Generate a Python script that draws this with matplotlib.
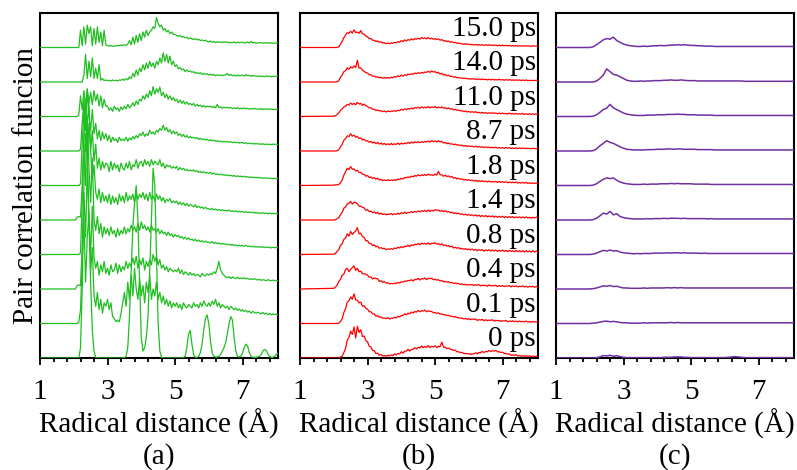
import numpy as np
import matplotlib
matplotlib.use("Agg")
import matplotlib.pyplot as plt

plt.rcParams['font.family'] = ['Liberation Serif', 'DejaVu Serif']

# radial grids (Å) on which the curves were read
r_fine = [round(2.0 + 0.05 * k, 2) for k in range(123)]   # panels (a), (b): 2.00 ... 8.10
r_grid = [round(2.0 + 0.1 * k, 1) for k in range(62)]     # panel (c): 2.0 ... 8.1

times = ['0 ps', '0.1 ps', '0.4 ps', '0.8 ps', '1.4 ps', '1.8 ps',
         '8.7 ps', '11.0 ps', '14.0 ps', '15.0 ps']

# panel (a), bottom -> top, values in units of the curve spacing
g_a = [
    [0, 0, 0, 0, 0.3, 2.0, 5.0, 6.5, 6.0, 4.0,
     2.2, 0.8, 0.2, 0.02, 0, 0, 0, 0, 0, 0,
     0, 0, 0, 0, 0, 0, 0, 0, 0, 0,
     0, 0.05, 0.3, 1.2, 2.5, 3.8, 4.5, 5.0, 4.0, 2.2,
     0.6, 0.2, 0.3, 0.6, 1.2, 2.5, 4.0, 5.5, 5.0, 3.0,
     1.0, 0.2, 0.02, 0, 0, 0, 0, 0, 0, 0,
     0, 0, 0, 0, 0, 0.02, 0.05, 0.3, 0.7, 0.8,
     0.4, 0.1, 0.02, 0.02, 0.05, 0.15, 0.4, 0.8, 1.15, 1.25,
     1.0, 0.5, 0.15, 0.05, 0.03, 0.03, 0.05, 0.1, 0.2, 0.3,
     0.45, 0.7, 1.0, 1.2, 1.1, 0.6, 0.2, 0.05, 0.03, 0.05,
     0.15, 0.3, 0.4, 0.35, 0.15, 0.05, 0.02, 0.02, 0.02, 0.03,
     0.05, 0.1, 0.2, 0.25, 0.22, 0.12, 0.05, 0.02, 0.02, 0.05,
     0.1, 0.15, 0.1],
    [0, 0, 0, 0.05, 0.4, 1.8, 3.0, 1.2, 2.5, 3.2,
     1.5, 2.2, 0.8, 0.5, 0.9, 0.4, 0.7, 0.3, 0.6, 0.5,
     0.7, 0.4, 0.6, 0.2, 0.15, 0.05, 0.1, 0.05, 0.3, 0.6,
     0.9, 0.5, 1.2, 0.7, 1.4, 0.8, 1.6, 1.0, 0.7, 1.3,
     0.8, 1.1, 0.6, 1.2, 0.9, 1.4, 0.7, 1.0, 0.8, 1.2,
     0.7, 0.9, 0.6, 0.8, 0.55, 0.7, 0.5, 0.65, 0.45, 0.6,
     0.5, 0.6, 0.45, 0.55, 0.4, 0.6, 0.5, 0.45, 0.55, 0.5,
     0.45, 0.6, 0.5, 0.55, 0.45, 0.6, 0.5, 0.65, 0.55, 0.5,
     0.6, 0.5, 0.65, 0.55, 0.7, 0.5, 0.6, 0.45, 0.55, 0.5,
     0.45, 0.5, 0.4, 0.5, 0.45, 0.4, 0.45, 0.38, 0.42, 0.36,
     0.4, 0.35, 0.38, 0.33, 0.36, 0.3, 0.35, 0.32, 0.3, 0.33,
     0.3, 0.28, 0.32, 0.27, 0.3, 0.26, 0.29, 0.25, 0.28, 0.26,
     0.27, 0.25, 0.26],
    [0, 0, 0.1, 0.12, 0.1, 1.2, 2.8, 1.5, 3.5, 2.0,
     1.0, 2.4, 0.9, 0.6, 0.8, 0.4, 0.7, 0.5, 0.8, 0.45,
     0.6, 0.4, 0.7, 0.5, 0.55, 0.75, 0.45, 0.7, 0.5, 0.65,
     0.55, 0.8, 0.6, 0.75, 0.65, 0.9, 0.7, 0.95, 0.6, 0.85,
     0.7, 0.9, 0.55, 0.8, 0.65, 0.85, 0.7, 1.0, 0.8, 0.95,
     0.7, 0.85, 0.6, 0.7, 0.55, 0.65, 0.5, 0.6, 0.55, 0.5,
     0.55, 0.5, 0.6, 0.45, 0.55, 0.42, 0.5, 0.45, 0.4, 0.48,
     0.4, 0.45, 0.38, 0.42, 0.4, 0.35, 0.45, 0.4, 0.38, 0.44,
     0.4, 0.45, 0.42, 0.5, 0.45, 0.6, 0.8, 0.55, 0.45, 0.4,
     0.35, 0.33, 0.36, 0.3, 0.35, 0.32, 0.3, 0.34, 0.3, 0.32,
     0.3, 0.33, 0.29, 0.31, 0.28, 0.3, 0.27, 0.3, 0.28, 0.26,
     0.28, 0.25, 0.27, 0.26, 0.24, 0.27, 0.25, 0.24, 0.26, 0.24,
     0.25, 0.24, 0.25],
    [0, 0, 0, 0, 0.05, 1.5, 3.2, 2.0, 4.0, 2.5,
     1.5, 2.8, 1.0, 0.7, 1.1, 0.6, 0.9, 0.5, 0.8, 0.6,
     0.75, 0.55, 0.8, 0.6, 0.7, 0.5, 0.75, 0.55, 0.7, 0.6,
     0.8, 0.6, 0.75, 0.65, 0.85, 0.7, 0.8, 0.65, 0.9, 0.7,
     0.95, 0.75, 0.85, 0.7, 0.8, 0.65, 0.85, 0.7, 0.75, 0.65,
     0.75, 0.6, 0.7, 0.6, 0.65, 0.55, 0.65, 0.55, 0.6, 0.5,
     0.58, 0.52, 0.55, 0.48, 0.52, 0.45, 0.5, 0.44, 0.48, 0.42,
     0.45, 0.4, 0.44, 0.38, 0.42, 0.37, 0.4, 0.36, 0.39, 0.35,
     0.36, 0.33, 0.38, 0.32, 0.35, 0.31, 0.34, 0.3, 0.32, 0.3,
     0.31, 0.28, 0.3, 0.27, 0.29, 0.26, 0.28, 0.25, 0.27, 0.25,
     0.26, 0.24, 0.27, 0.23, 0.25, 0.22, 0.24, 0.22, 0.23, 0.21,
     0.23, 0.21, 0.22, 0.2, 0.22, 0.2, 0.21, 0.19, 0.21, 0.2,
     0.2, 0.19, 0.2],
    [0, 0, 0.08, 0.1, 0.08, 1.0, 2.5, 3.5, 1.8, 2.8,
     2.0, 1.2, 1.6, 0.8, 0.6, 0.9, 0.5, 0.8, 0.55, 0.7,
     0.5, 0.75, 0.45, 0.7, 0.5, 0.65, 0.45, 0.75, 0.55, 0.7,
     0.5, 0.8, 0.55, 0.7, 0.6, 0.75, 0.5, 0.8, 0.6, 0.75,
     0.65, 0.8, 0.6, 0.75, 0.55, 0.8, 0.6, 0.7, 0.55, 0.75,
     0.6, 0.7, 0.55, 0.65, 0.5, 0.6, 0.55, 0.62, 0.5, 0.55,
     0.5, 0.55, 0.45, 0.52, 0.44, 0.5, 0.42, 0.48, 0.4, 0.45,
     0.42, 0.38, 0.44, 0.36, 0.4, 0.35, 0.38, 0.33, 0.37, 0.32,
     0.33, 0.3, 0.34, 0.29, 0.32, 0.28, 0.31, 0.27, 0.3, 0.27,
     0.28, 0.26, 0.29, 0.25, 0.27, 0.24, 0.26, 0.24, 0.25, 0.23,
     0.25, 0.22, 0.24, 0.22, 0.23, 0.21, 0.23, 0.2, 0.22, 0.2,
     0.21, 0.19, 0.21, 0.19, 0.2, 0.18, 0.2, 0.18, 0.19, 0.18,
     0.19, 0.18, 0.19],
    [0, 0, 0, 0, 0.05, 1.2, 2.2, 1.0, 1.8, 2.4,
     1.0, 1.6, 0.7, 1.2, 0.5, 0.8, 0.45, 0.7, 0.5, 0.65,
     0.6, 0.4, 0.7, 0.45, 0.65, 0.5, 0.6, 0.4, 0.65, 0.5,
     0.45, 0.65, 0.5, 0.7, 0.45, 0.6, 0.55, 0.75, 0.5, 0.65,
     0.7, 0.55, 0.75, 0.6, 0.7, 0.55, 0.75, 0.6, 0.7, 0.65,
     0.6, 0.75, 0.55, 0.65, 0.5, 0.6, 0.55, 0.58, 0.5, 0.55,
     0.5, 0.55, 0.45, 0.52, 0.46, 0.5, 0.44, 0.47, 0.42, 0.45,
     0.42, 0.45, 0.4, 0.43, 0.38, 0.41, 0.37, 0.4, 0.36, 0.38,
     0.35, 0.38, 0.33, 0.36, 0.32, 0.34, 0.31, 0.33, 0.3, 0.32,
     0.29, 0.31, 0.28, 0.3, 0.27, 0.29, 0.26, 0.28, 0.26, 0.27,
     0.25, 0.27, 0.24, 0.26, 0.23, 0.25, 0.23, 0.24, 0.22, 0.24,
     0.22, 0.23, 0.21, 0.22, 0.21, 0.22, 0.2, 0.21, 0.2, 0.21,
     0.2, 0.21, 0.2],
    [0, 0, 0, 0, 0.05, 0.8, 1.5, 0.6, 1.8, 1.0,
     0.6, 1.2, 0.5, 0.8, 0.35, 0.6, 0.3, 0.55, 0.35, 0.5,
     0.3, 0.45, 0.25, 0.4, 0.3, 0.35, 0.25, 0.4, 0.3, 0.35,
     0.3, 0.4, 0.28, 0.38, 0.32, 0.42, 0.35, 0.45, 0.38, 0.5,
     0.45, 0.55, 0.42, 0.5, 0.45, 0.6, 0.5, 0.55, 0.48, 0.6,
     0.55, 0.65, 0.6, 0.75, 0.6, 0.68, 0.55, 0.62, 0.5, 0.58,
     0.5, 0.55, 0.45, 0.5, 0.42, 0.48, 0.4, 0.45, 0.38, 0.42,
     0.38, 0.4, 0.36, 0.39, 0.34, 0.37, 0.33, 0.35, 0.32, 0.34,
     0.3, 0.33, 0.29, 0.32, 0.28, 0.3, 0.27, 0.29, 0.26, 0.28,
     0.26, 0.28, 0.25, 0.27, 0.24, 0.26, 0.24, 0.25, 0.23, 0.25,
     0.24, 0.22, 0.24, 0.21, 0.23, 0.21, 0.22, 0.2, 0.22, 0.2,
     0.21, 0.19, 0.21, 0.19, 0.2, 0.19, 0.2, 0.18, 0.2, 0.19,
     0.2, 0.19, 0.2],
    [0, 0, 0, 0.05, 0.6, 0.2, 0.75, 0.3, 0.8, 0.4,
     0.7, 0.35, 0.75, 0.45, 0.65, 0.3, 0.6, 0.25, 0.5, 0.3,
     0.3, 0.18, 0.25, 0.15, 0.3, 0.2, 0.25, 0.15, 0.28, 0.2,
     0.3, 0.22, 0.35, 0.25, 0.3, 0.4, 0.3, 0.45, 0.35, 0.5,
     0.45, 0.6, 0.5, 0.65, 0.55, 0.75, 0.6, 0.87, 0.65, 0.8,
     0.7, 0.85, 0.6, 0.7, 0.55, 0.65, 0.5, 0.6, 0.48, 0.55,
     0.45, 0.5, 0.4, 0.48, 0.38, 0.45, 0.36, 0.42, 0.35, 0.38,
     0.33, 0.38, 0.3, 0.35, 0.3, 0.33, 0.28, 0.32, 0.27, 0.3,
     0.28, 0.3, 0.26, 0.29, 0.25, 0.35, 0.26, 0.28, 0.24, 0.27,
     0.25, 0.27, 0.24, 0.26, 0.23, 0.25, 0.23, 0.26, 0.22, 0.24,
     0.23, 0.25, 0.22, 0.24, 0.21, 0.23, 0.22, 0.24, 0.21, 0.22,
     0.21, 0.23, 0.2, 0.22, 0.21, 0.22, 0.2, 0.22, 0.2, 0.21,
     0.2, 0.21, 0.2],
    [0, 0, 0, 0, 0, 0, 0.2, 0.8, 0.1, 0.6,
     0.15, 0.7, 0.1, 0.4, 0.1, 0.5, 0.05, 0.1, 0.04, 0.06,
     0.04, 0.05, 0.03, 0.06, 0.04, 0.05, 0.03, 0.06, 0.05, 0.08,
     0.05, 0.1, 0.06, 0.15, 0.1, 0.25, 0.15, 0.35, 0.2, 0.4,
     0.3, 0.5, 0.35, 0.55, 0.4, 0.6, 0.45, 0.55, 0.4, 0.6,
     0.5, 0.7, 0.55, 0.85, 0.6, 0.8, 0.55, 0.75, 0.5, 0.6,
     0.45, 0.5, 0.38, 0.42, 0.35, 0.38, 0.3, 0.35, 0.3, 0.32,
     0.28, 0.3, 0.25, 0.28, 0.24, 0.27, 0.22, 0.25, 0.22, 0.24,
     0.2, 0.23, 0.19, 0.22, 0.18, 0.21, 0.19, 0.2, 0.18, 0.21,
     0.2, 0.25, 0.19, 0.22, 0.18, 0.2, 0.17, 0.2, 0.18, 0.19,
     0.2, 0.17, 0.22, 0.18, 0.2, 0.16, 0.19, 0.17, 0.18, 0.16,
     0.18, 0.16, 0.17, 0.15, 0.18, 0.16, 0.17, 0.15, 0.17, 0.16,
     0.16, 0.17, 0.16],
    [0, 0, 0, 0, 0.5, 0.05, 0.6, 0.1, 0.65, 0.4,
     0.6, 0.05, 0.55, 0.1, 0.6, 0.15, 0.45, 0.05, 0.5, 0.08,
     0.05, 0.04, 0.06, 0.03, 0.05, 0.04, 0.06, 0.05, 0.07, 0.06,
     0.08, 0.06, 0.1, 0.2, 0.08, 0.3, 0.1, 0.35, 0.15, 0.4,
     0.2, 0.45, 0.3, 0.5, 0.35, 0.45, 0.5, 0.6, 0.55, 0.87,
     0.7, 0.6, 0.65, 0.5, 0.55, 0.45, 0.5, 0.4, 0.45, 0.38,
     0.38, 0.35, 0.32, 0.35, 0.3, 0.32, 0.28, 0.3, 0.25, 0.28,
     0.25, 0.23, 0.26, 0.22, 0.24, 0.2, 0.22, 0.19, 0.21, 0.18,
     0.16, 0.19, 0.15, 0.18, 0.14, 0.17, 0.15, 0.16, 0.14, 0.17,
     0.15, 0.16, 0.13, 0.15, 0.14, 0.16, 0.13, 0.15, 0.14, 0.15,
     0.15, 0.13, 0.14, 0.16, 0.13, 0.18, 0.13, 0.15, 0.12, 0.14,
     0.13, 0.15, 0.12, 0.14, 0.13, 0.14, 0.12, 0.14, 0.12, 0.13,
     0.13, 0.14, 0.13],
]

# panel (b)
g_b = [
    [0, 0, 0, 0, 0.03, 0.05, 0.16, 0.28, 0.52, 0.6,
     0.78, 0.68, 0.9, 0.58, 0.92, 0.74, 0.82, 0.62, 0.64, 0.5,
     0.47, 0.34, 0.32, 0.22, 0.21, 0.13, 0.14, 0.08, 0.1, 0.06,
     0.07, 0.05, 0.08, 0.06, 0.09, 0.07, 0.12, 0.09, 0.13, 0.12,
     0.18, 0.14, 0.2, 0.2, 0.25, 0.2, 0.25, 0.25, 0.3, 0.26,
     0.31, 0.29, 0.35, 0.3, 0.33, 0.31, 0.36, 0.3, 0.34, 0.32,
     0.35, 0.3, 0.34, 0.33, 0.46, 0.31, 0.32, 0.27, 0.29, 0.25,
     0.25, 0.22, 0.23, 0.18, 0.18, 0.16, 0.16, 0.13, 0.13, 0.12,
     0.13, 0.1, 0.12, 0.12, 0.15, 0.12, 0.16, 0.15, 0.19, 0.16,
     0.19, 0.18, 0.22, 0.19, 0.21, 0.2, 0.22, 0.18, 0.18, 0.16,
     0.17, 0.13, 0.13, 0.11, 0.12, 0.08, 0.09, 0.08, 0.09, 0.06,
     0.07, 0.05, 0.07, 0.05, 0.06, 0.05, 0.06, 0.04, 0.06, 0.04,
     0.05, 0.04, 0.05],
    [0, 0, 0, 0.01, 0.06, 0.14, 0.32, 0.43, 0.62, 0.66,
     0.77, 0.7, 0.86, 0.68, 0.67, 0.6, 0.62, 0.5, 0.52, 0.44,
     0.42, 0.34, 0.34, 0.28, 0.28, 0.21, 0.23, 0.18, 0.19, 0.15,
     0.16, 0.14, 0.17, 0.13, 0.15, 0.15, 0.18, 0.16, 0.21, 0.19,
     0.23, 0.23, 0.28, 0.25, 0.3, 0.28, 0.33, 0.3, 0.35, 0.33,
     0.38, 0.34, 0.37, 0.36, 0.39, 0.34, 0.37, 0.35, 0.35, 0.31,
     0.32, 0.29, 0.31, 0.27, 0.28, 0.25, 0.26, 0.23, 0.24, 0.21,
     0.21, 0.19, 0.2, 0.17, 0.17, 0.15, 0.16, 0.13, 0.15, 0.12,
     0.14, 0.11, 0.13, 0.12, 0.13, 0.09, 0.11, 0.1, 0.12, 0.08,
     0.11, 0.08, 0.1, 0.09, 0.11, 0.07, 0.09, 0.08, 0.09, 0.06,
     0.08, 0.07, 0.09, 0.05, 0.07, 0.06, 0.08, 0.05, 0.07, 0.05,
     0.07, 0.05, 0.06, 0.05, 0.07, 0.04, 0.06, 0.04, 0.06, 0.04,
     0.05, 0.04, 0.05],
    [0.02, 0.06, 0.11, 0.22, 0.28, 0.4, 0.43, 0.57, 0.6, 0.5,
     0.57, 0.62, 0.67, 0.54, 0.6, 0.5, 0.52, 0.44, 0.44, 0.43,
     0.4, 0.34, 0.35, 0.29, 0.32, 0.3, 0.3, 0.22, 0.24, 0.19,
     0.21, 0.17, 0.18, 0.15, 0.16, 0.15, 0.17, 0.16, 0.19, 0.17,
     0.21, 0.2, 0.23, 0.22, 0.25, 0.24, 0.27, 0.23, 0.28, 0.27,
     0.31, 0.26, 0.3, 0.29, 0.32, 0.27, 0.31, 0.3, 0.31, 0.27,
     0.28, 0.26, 0.27, 0.23, 0.25, 0.21, 0.22, 0.2, 0.21, 0.18,
     0.19, 0.16, 0.17, 0.16, 0.16, 0.13, 0.15, 0.12, 0.14, 0.11,
     0.13, 0.12, 0.13, 0.1, 0.12, 0.11, 0.13, 0.09, 0.11, 0.1,
     0.11, 0.08, 0.12, 0.09, 0.1, 0.09, 0.11, 0.07, 0.1, 0.08,
     0.1, 0.07, 0.09, 0.08, 0.1, 0.06, 0.09, 0.07, 0.09, 0.06,
     0.08, 0.07, 0.09, 0.06, 0.08, 0.05, 0.08, 0.06, 0.08, 0.05,
     0.07, 0.06, 0.06],
    [0.01, 0.03, 0.09, 0.14, 0.27, 0.31, 0.44, 0.48, 0.6, 0.53,
     0.67, 0.58, 0.64, 0.68, 0.78, 0.6, 0.62, 0.52, 0.5, 0.4,
     0.4, 0.32, 0.32, 0.26, 0.28, 0.22, 0.24, 0.18, 0.2, 0.17,
     0.18, 0.14, 0.16, 0.15, 0.17, 0.15, 0.19, 0.17, 0.21, 0.19,
     0.23, 0.2, 0.24, 0.23, 0.27, 0.23, 0.28, 0.26, 0.3, 0.28,
     0.32, 0.28, 0.33, 0.31, 0.32, 0.3, 0.34, 0.29, 0.33, 0.32,
     0.34, 0.3, 0.32, 0.28, 0.31, 0.26, 0.28, 0.24, 0.26, 0.22,
     0.24, 0.19, 0.21, 0.18, 0.2, 0.16, 0.18, 0.15, 0.17, 0.14,
     0.16, 0.13, 0.16, 0.12, 0.15, 0.11, 0.14, 0.12, 0.14, 0.1,
     0.13, 0.11, 0.14, 0.1, 0.13, 0.1, 0.13, 0.09, 0.12, 0.1,
     0.13, 0.09, 0.12, 0.08, 0.12, 0.09, 0.11, 0.08, 0.12, 0.08,
     0.11, 0.08, 0.11, 0.07, 0.11, 0.08, 0.1, 0.07, 0.11, 0.07,
     0.1, 0.08, 0.09],
    [0, 0.01, 0.04, 0.07, 0.16, 0.22, 0.34, 0.38, 0.47, 0.48,
     0.54, 0.46, 0.52, 0.5, 0.47, 0.4, 0.4, 0.37, 0.35, 0.28,
     0.3, 0.24, 0.26, 0.21, 0.24, 0.19, 0.22, 0.17, 0.2, 0.16,
     0.18, 0.15, 0.17, 0.16, 0.19, 0.15, 0.18, 0.16, 0.2, 0.17,
     0.21, 0.19, 0.23, 0.19, 0.22, 0.21, 0.24, 0.22, 0.25, 0.23,
     0.26, 0.24, 0.27, 0.25, 0.28, 0.24, 0.29, 0.25, 0.28, 0.26,
     0.3, 0.28, 0.29, 0.25, 0.28, 0.24, 0.27, 0.23, 0.25, 0.21,
     0.23, 0.19, 0.21, 0.18, 0.2, 0.16, 0.18, 0.15, 0.17, 0.14,
     0.16, 0.13, 0.15, 0.12, 0.15, 0.11, 0.14, 0.1, 0.13, 0.1,
     0.13, 0.09, 0.12, 0.09, 0.12, 0.08, 0.11, 0.08, 0.11, 0.08,
     0.11, 0.07, 0.1, 0.07, 0.1, 0.07, 0.1, 0.06, 0.09, 0.07,
     0.09, 0.06, 0.09, 0.06, 0.09, 0.06, 0.08, 0.05, 0.08, 0.06,
     0.08, 0.06, 0.07],
    [0.01, 0.02, 0.02, 0.03, 0.08, 0.16, 0.3, 0.4, 0.5, 0.46,
     0.55, 0.47, 0.48, 0.42, 0.44, 0.38, 0.38, 0.33, 0.32, 0.27,
     0.29, 0.23, 0.25, 0.2, 0.23, 0.18, 0.21, 0.16, 0.18, 0.14,
     0.16, 0.14, 0.17, 0.14, 0.16, 0.14, 0.17, 0.15, 0.19, 0.17,
     0.21, 0.19, 0.23, 0.22, 0.25, 0.23, 0.27, 0.25, 0.29, 0.27,
     0.31, 0.28, 0.31, 0.29, 0.32, 0.29, 0.33, 0.3, 0.31, 0.29,
     0.33, 0.3, 0.41, 0.31, 0.31, 0.27, 0.3, 0.26, 0.28, 0.24,
     0.26, 0.21, 0.23, 0.19, 0.21, 0.18, 0.19, 0.16, 0.18, 0.15,
     0.17, 0.14, 0.16, 0.13, 0.15, 0.12, 0.14, 0.12, 0.14, 0.11,
     0.13, 0.1, 0.13, 0.1, 0.12, 0.1, 0.12, 0.09, 0.12, 0.09,
     0.11, 0.09, 0.11, 0.08, 0.1, 0.08, 0.1, 0.08, 0.1, 0.07,
     0.09, 0.07, 0.09, 0.07, 0.09, 0.06, 0.08, 0.06, 0.08, 0.06,
     0.07, 0.06, 0.07],
    [0, 0, 0.01, 0.04, 0.12, 0.2, 0.31, 0.36, 0.44, 0.42,
     0.5, 0.43, 0.46, 0.4, 0.42, 0.36, 0.38, 0.32, 0.34, 0.29,
     0.3, 0.25, 0.28, 0.23, 0.26, 0.21, 0.25, 0.2, 0.23, 0.19,
     0.22, 0.18, 0.21, 0.18, 0.22, 0.18, 0.21, 0.19, 0.23, 0.19,
     0.23, 0.2, 0.23, 0.21, 0.25, 0.22, 0.26, 0.23, 0.27, 0.24,
     0.27, 0.24, 0.27, 0.25, 0.28, 0.26, 0.29, 0.26, 0.3, 0.27,
     0.29, 0.26, 0.3, 0.26, 0.28, 0.23, 0.25, 0.21, 0.23, 0.2,
     0.21, 0.18, 0.2, 0.17, 0.18, 0.16, 0.17, 0.14, 0.16, 0.13,
     0.15, 0.13, 0.14, 0.12, 0.14, 0.11, 0.13, 0.11, 0.12, 0.1,
     0.12, 0.1, 0.11, 0.09, 0.11, 0.09, 0.11, 0.09, 0.1, 0.08,
     0.1, 0.08, 0.1, 0.08, 0.1, 0.07, 0.09, 0.07, 0.09, 0.07,
     0.09, 0.07, 0.09, 0.07, 0.08, 0.07, 0.08, 0.06, 0.08, 0.07,
     0.07, 0.06, 0.07],
    [0.01, 0.02, 0.06, 0.1, 0.18, 0.22, 0.28, 0.3, 0.35, 0.33,
     0.39, 0.35, 0.38, 0.34, 0.41, 0.36, 0.38, 0.32, 0.36, 0.31,
     0.29, 0.25, 0.25, 0.21, 0.21, 0.17, 0.19, 0.16, 0.17, 0.14,
     0.16, 0.13, 0.16, 0.14, 0.16, 0.15, 0.17, 0.15, 0.18, 0.17,
     0.21, 0.18, 0.22, 0.2, 0.23, 0.21, 0.25, 0.22, 0.26, 0.24,
     0.27, 0.24, 0.28, 0.25, 0.27, 0.25, 0.29, 0.25, 0.28, 0.26,
     0.29, 0.25, 0.27, 0.25, 0.28, 0.24, 0.26, 0.22, 0.25, 0.21,
     0.23, 0.19, 0.21, 0.18, 0.19, 0.16, 0.17, 0.14, 0.16, 0.13,
     0.15, 0.12, 0.14, 0.12, 0.14, 0.11, 0.12, 0.1, 0.12, 0.1,
     0.11, 0.09, 0.11, 0.09, 0.11, 0.09, 0.1, 0.08, 0.1, 0.08,
     0.1, 0.08, 0.09, 0.07, 0.1, 0.07, 0.09, 0.07, 0.09, 0.07,
     0.08, 0.07, 0.09, 0.06, 0.08, 0.06, 0.08, 0.06, 0.08, 0.06,
     0.07, 0.06, 0.07],
    [0, 0, 0.01, 0.04, 0.14, 0.2, 0.3, 0.33, 0.41, 0.37,
     0.44, 0.4, 0.47, 0.42, 0.63, 0.4, 0.41, 0.34, 0.31, 0.27,
     0.26, 0.21, 0.21, 0.17, 0.17, 0.14, 0.15, 0.12, 0.14, 0.11,
     0.13, 0.11, 0.13, 0.11, 0.14, 0.12, 0.16, 0.14, 0.18, 0.16,
     0.2, 0.17, 0.21, 0.19, 0.23, 0.21, 0.24, 0.22, 0.26, 0.24,
     0.27, 0.25, 0.28, 0.26, 0.29, 0.28, 0.31, 0.28, 0.32, 0.29,
     0.3, 0.26, 0.28, 0.23, 0.25, 0.2, 0.22, 0.18, 0.2, 0.16,
     0.17, 0.14, 0.15, 0.12, 0.13, 0.11, 0.12, 0.1, 0.11, 0.09,
     0.1, 0.08, 0.1, 0.08, 0.09, 0.07, 0.09, 0.07, 0.09, 0.07,
     0.08, 0.06, 0.08, 0.06, 0.08, 0.06, 0.07, 0.06, 0.08, 0.06,
     0.07, 0.05, 0.07, 0.05, 0.07, 0.05, 0.06, 0.05, 0.06, 0.05,
     0.06, 0.04, 0.06, 0.04, 0.06, 0.04, 0.05, 0.04, 0.05, 0.04,
     0.05, 0.04, 0.04],
    [0, 0, 0, 0.02, 0.1, 0.18, 0.29, 0.36, 0.43, 0.41,
     0.47, 0.42, 0.51, 0.43, 0.45, 0.41, 0.49, 0.4, 0.39, 0.33,
     0.31, 0.26, 0.26, 0.21, 0.21, 0.17, 0.19, 0.15, 0.17, 0.13,
     0.14, 0.11, 0.13, 0.11, 0.13, 0.12, 0.15, 0.13, 0.17, 0.15,
     0.2, 0.17, 0.22, 0.19, 0.23, 0.21, 0.25, 0.22, 0.26, 0.24,
     0.27, 0.24, 0.29, 0.26, 0.28, 0.25, 0.29, 0.25, 0.27, 0.24,
     0.26, 0.23, 0.25, 0.21, 0.23, 0.19, 0.2, 0.17, 0.19, 0.15,
     0.17, 0.14, 0.15, 0.12, 0.13, 0.11, 0.11, 0.09, 0.11, 0.09,
     0.1, 0.08, 0.09, 0.07, 0.09, 0.07, 0.08, 0.07, 0.08, 0.06,
     0.08, 0.06, 0.08, 0.06, 0.07, 0.06, 0.07, 0.05, 0.07, 0.05,
     0.07, 0.05, 0.06, 0.05, 0.06, 0.04, 0.06, 0.04, 0.06, 0.04,
     0.05, 0.04, 0.05, 0.04, 0.05, 0.04, 0.05, 0.03, 0.05, 0.04,
     0.04, 0.04, 0.04],
]

# panel (c)
g_c = [
    [0, 0, 0.01, 0.03, 0.07, 0.06, 0.08, 0.05, 0.07, 0.04,
     0.02, 0.01, 0.01, 0.01, 0.01, 0.01, 0.01, 0.01, 0.01, 0.01,
     0.01, 0.01, 0.02, 0.02, 0.02, 0.03, 0.03, 0.03, 0.02, 0.02,
     0.01, 0.01, 0.01, 0.01, 0.01, 0.01, 0.01, 0.01, 0.01, 0.01,
     0.01, 0.02, 0.03, 0.04, 0.03, 0.02, 0.01, 0.01, 0.01, 0.01,
     0.01, 0.01, 0.01, 0.01, 0.01, 0.01, 0.01, 0.01, 0.01, 0.01,
     0.01, 0.01],
    [0, 0.01, 0.02, 0.04, 0.06, 0.07, 0.05, 0.06, 0.05, 0.03,
     0.02, 0.02, 0.01, 0.01, 0.01, 0.01, 0.02, 0.01, 0.02, 0.02,
     0.02, 0.02, 0.02, 0.02, 0.03, 0.02, 0.03, 0.02, 0.02, 0.02,
     0.02, 0.02, 0.02, 0.02, 0.02, 0.02, 0.02, 0.02, 0.02, 0.02,
     0.02, 0.02, 0.02, 0.02, 0.02, 0.02, 0.02, 0.02, 0.02, 0.02,
     0.02, 0.02, 0.02, 0.02, 0.02, 0.02, 0.02, 0.02, 0.02, 0.02,
     0.02, 0.02],
    [0, 0.01, 0.03, 0.06, 0.09, 0.08, 0.1, 0.07, 0.08, 0.05,
     0.03, 0.03, 0.02, 0.02, 0.02, 0.02, 0.03, 0.02, 0.03, 0.03,
     0.03, 0.03, 0.03, 0.04, 0.03, 0.04, 0.03, 0.04, 0.03, 0.03,
     0.03, 0.03, 0.03, 0.03, 0.03, 0.03, 0.03, 0.03, 0.03, 0.03,
     0.03, 0.03, 0.03, 0.03, 0.03, 0.03, 0.03, 0.03, 0.03, 0.03,
     0.03, 0.03, 0.03, 0.03, 0.03, 0.03, 0.03, 0.03, 0.03, 0.03,
     0.03, 0.03],
    [0, 0.01, 0.04, 0.08, 0.12, 0.1, 0.13, 0.1, 0.11, 0.07,
     0.05, 0.04, 0.03, 0.02, 0.03, 0.02, 0.03, 0.03, 0.03, 0.04,
     0.04, 0.04, 0.04, 0.05, 0.04, 0.05, 0.05, 0.04, 0.05, 0.04,
     0.04, 0.04, 0.04, 0.03, 0.04, 0.03, 0.03, 0.03, 0.03, 0.03,
     0.03, 0.03, 0.03, 0.03, 0.03, 0.03, 0.03, 0.03, 0.03, 0.03,
     0.03, 0.03, 0.03, 0.03, 0.03, 0.03, 0.03, 0.03, 0.03, 0.03,
     0.03, 0.03],
    [0, 0.01, 0.05, 0.12, 0.2, 0.17, 0.25, 0.15, 0.18, 0.1,
     0.07, 0.05, 0.04, 0.03, 0.03, 0.03, 0.03, 0.04, 0.03, 0.04,
     0.04, 0.04, 0.05, 0.04, 0.05, 0.05, 0.05, 0.04, 0.05, 0.04,
     0.04, 0.04, 0.04, 0.04, 0.04, 0.03, 0.04, 0.03, 0.03, 0.03,
     0.03, 0.03, 0.03, 0.03, 0.03, 0.03, 0.03, 0.03, 0.03, 0.03,
     0.03, 0.03, 0.03, 0.03, 0.03, 0.03, 0.03, 0.03, 0.03, 0.03,
     0.03, 0.03],
    [0, 0.01, 0.05, 0.12, 0.18, 0.22, 0.2, 0.22, 0.15, 0.1,
     0.07, 0.05, 0.04, 0.03, 0.03, 0.03, 0.04, 0.03, 0.04, 0.04,
     0.04, 0.05, 0.05, 0.05, 0.06, 0.05, 0.06, 0.05, 0.05, 0.05,
     0.05, 0.04, 0.04, 0.04, 0.04, 0.04, 0.03, 0.03, 0.03, 0.03,
     0.03, 0.03, 0.03, 0.03, 0.03, 0.03, 0.03, 0.03, 0.03, 0.03,
     0.03, 0.03, 0.03, 0.03, 0.03, 0.03, 0.03, 0.03, 0.03, 0.03,
     0.03, 0.03],
    [0, 0.01, 0.06, 0.15, 0.22, 0.3, 0.25, 0.22, 0.17, 0.12,
     0.08, 0.05, 0.04, 0.03, 0.03, 0.03, 0.03, 0.04, 0.04, 0.04,
     0.05, 0.05, 0.05, 0.06, 0.06, 0.05, 0.06, 0.06, 0.05, 0.05,
     0.05, 0.05, 0.04, 0.04, 0.04, 0.04, 0.04, 0.03, 0.03, 0.03,
     0.03, 0.03, 0.03, 0.03, 0.03, 0.03, 0.03, 0.03, 0.03, 0.03,
     0.03, 0.03, 0.03, 0.03, 0.03, 0.03, 0.03, 0.03, 0.03, 0.03,
     0.03, 0.03],
    [0, 0.01, 0.05, 0.12, 0.2, 0.24, 0.35, 0.25, 0.2, 0.15,
     0.1, 0.07, 0.05, 0.04, 0.03, 0.03, 0.03, 0.04, 0.04, 0.04,
     0.05, 0.05, 0.05, 0.06, 0.06, 0.06, 0.07, 0.06, 0.06, 0.05,
     0.05, 0.05, 0.04, 0.04, 0.04, 0.04, 0.04, 0.03, 0.03, 0.03,
     0.03, 0.03, 0.03, 0.03, 0.03, 0.03, 0.03, 0.03, 0.03, 0.03,
     0.03, 0.03, 0.03, 0.03, 0.03, 0.03, 0.03, 0.03, 0.03, 0.03,
     0.03, 0.03],
    [0, 0, 0.03, 0.1, 0.2, 0.38, 0.3, 0.22, 0.2, 0.15,
     0.1, 0.05, 0.03, 0.02, 0.02, 0.03, 0.02, 0.03, 0.03, 0.04,
     0.04, 0.04, 0.05, 0.05, 0.06, 0.05, 0.05, 0.06, 0.05, 0.04,
     0.04, 0.04, 0.03, 0.03, 0.03, 0.03, 0.03, 0.03, 0.03, 0.03,
     0.03, 0.03, 0.03, 0.03, 0.03, 0.03, 0.02, 0.02, 0.02, 0.02,
     0.02, 0.02, 0.02, 0.02, 0.02, 0.02, 0.02, 0.02, 0.02, 0.02,
     0.02, 0.02],
    [0, 0.02, 0.08, 0.15, 0.22, 0.26, 0.24, 0.3, 0.2, 0.15,
     0.1, 0.07, 0.05, 0.04, 0.03, 0.03, 0.04, 0.03, 0.04, 0.05,
     0.05, 0.06, 0.05, 0.06, 0.07, 0.07, 0.08, 0.07, 0.08, 0.07,
     0.06, 0.06, 0.05, 0.05, 0.04, 0.04, 0.04, 0.03, 0.03, 0.03,
     0.03, 0.03, 0.03, 0.03, 0.03, 0.03, 0.03, 0.03, 0.03, 0.03,
     0.03, 0.03, 0.03, 0.03, 0.03, 0.03, 0.03, 0.03, 0.03, 0.03,
     0.03, 0.03],
]

fig = plt.figure(figsize=(7.97, 4.70), dpi=100)
lefts = [40 / 797, 300 / 797, 556 / 797]
w, bot, h = 238 / 797, 112 / 470, 345 / 470
panels = [(g_a, r_fine, '#1fbf1f', 0.9, '(a)'),
          (g_b, r_fine, '#ff0000', 0.9, '(b)'),
          (g_c, r_grid, '#7030a0', 1.1, '(c)')]

for left, (curves, rr, col, lw, tag) in zip(lefts, panels):
    ax = fig.add_axes([left, bot, w, h])
    x = [1.0] + rr
    for i, g in enumerate(curves):
        y = np.array([0.0] + g) + i
        ax.plot(x, y, color=col, lw=lw, zorder=3)
    ax.set_xlim(1, 8.05)
    ax.set_ylim(0, 10)
    ax.set_yticks([])
    ax.set_xticks([1, 3, 5, 7])
    ax.set_xticks(np.arange(1.4, 8.0, 0.4), minor=True)
    ax.tick_params(axis='x', which='major', direction='out', length=5, width=1.3,
                   labelsize=21, pad=10)
    ax.tick_params(axis='x', which='minor', direction='out', length=3, width=1.3)
    for s in ax.spines.values():
        s.set_linewidth(1.5)
    ax.set_xlabel('Radical distance (Å)', fontsize=21, labelpad=3)
    ax.text(0.5, -0.285, tag, transform=ax.transAxes, ha='center', va='center',
            fontsize=21)
    if tag == '(a)':
        ax.set_ylabel('Pair correlation funcion', fontsize=21, labelpad=1)
    if tag == '(b)':
        for i, t in enumerate(times):
            ax.text(7.98, i + 0.55, t, ha='right', va='center', fontsize=21)

fig.savefig('out.png', dpi=100)
